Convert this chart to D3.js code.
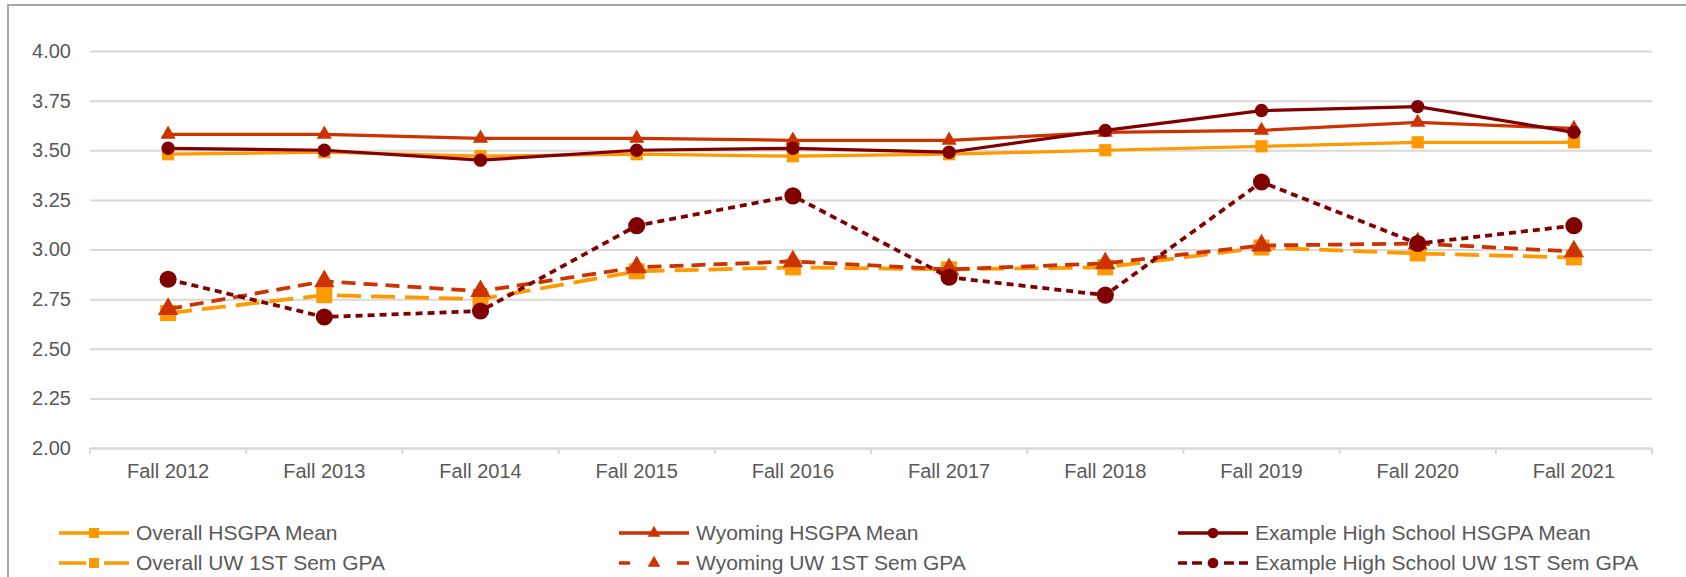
<!DOCTYPE html>
<html>
<head>
<meta charset="utf-8">
<script src="https://cdn.jsdelivr.net/npm/d3@7"></script>
<style>
  body { margin: 0; background: #fff; }
  text { font-family: "Liberation Sans", Arial, sans-serif; fill: #595959; }
</style>
</head>
<body>
<svg id="canvas" width="1686" height="577"></svg>
<script>
// categories and tick labels
let years = ['Fall 2012', 'Fall 2013', 'Fall 2014', 'Fall 2015', 'Fall 2016',
             'Fall 2017', 'Fall 2018', 'Fall 2019', 'Fall 2020', 'Fall 2021']
let yTicks = [2.00, 2.25, 2.50, 2.75, 3.00, 3.25, 3.50, 3.75, 4.00]

// series values
let overallHS    = [3.48, 3.49, 3.47, 3.48, 3.47, 3.48, 3.50, 3.52, 3.54, 3.54]
let wyomingHS    = [3.58, 3.58, 3.56, 3.56, 3.55, 3.55, 3.59, 3.60, 3.64, 3.61]
let exampleHS    = [3.51, 3.50, 3.45, 3.50, 3.51, 3.49, 3.60, 3.70, 3.72, 3.59]
let overallUW    = [2.68, 2.77, 2.75, 2.89, 2.91, 2.90, 2.91, 3.01, 2.98, 2.96]
let wyomingUW    = [2.70, 2.84, 2.79, 2.91, 2.94, 2.90, 2.93, 3.02, 3.03, 2.99]
let exampleUW    = [2.85, 2.66, 2.69, 3.12, 3.27, 2.86, 2.77, 3.34, 3.03, 3.12]

let seriesNames = ['Overall HSGPA Mean', 'Wyoming HSGPA Mean', 'Example High School HSGPA Mean',
                   'Overall UW 1ST Sem GPA', 'Wyoming UW 1ST Sem GPA', 'Example High School UW 1ST Sem GPA']

let orange = '#FF9900'
let rust = '#CC3300'
let maroon = '#800000'

let series = [
  {name: seriesNames[0], values: overallHS, color: orange, shape: 'square', dash: null, big: false},
  {name: seriesNames[1], values: wyomingHS, color: rust, shape: 'triangle', dash: null, big: false},
  {name: seriesNames[2], values: exampleHS, color: maroon, shape: 'circle', dash: null, big: false},
  {name: seriesNames[3], values: overallUW, color: orange, shape: 'square', dash: '24,10', big: true},
  {name: seriesNames[4], values: wyomingUW, color: rust, shape: 'triangle', dash: '14,8', big: true},
  {name: seriesNames[5], values: exampleUW, color: maroon, shape: 'circle', dash: '7,5', big: true}
]

let canvas = d3.select('#canvas')

// chart frame (cut off on the right and bottom)
canvas.append('rect')
  .attr('x', 8).attr('y', 5)
  .attr('width', 1700).attr('height', 600)
  .attr('fill', 'none')
  .attr('stroke', '#a6a6a6')
  .attr('stroke-width', 2)

let xScale = d3.scaleBand().domain(years).range([90, 1652])
let yScale = d3.scaleLinear().domain([2, 4]).range([448, 51])
let xCenter = (d) => xScale(d) + xScale.bandwidth() / 2

// gridlines + y labels
let yAxis = d3.axisLeft(yScale)
  .tickValues(yTicks)
  .tickFormat(d3.format('.2f'))
  .tickSize(-(1652 - 90))
  .tickPadding(19)

let yG = canvas.append('g')
  .attr('transform', 'translate(90,0)')
  .call(yAxis)
yG.select('.domain').remove()
yG.selectAll('.tick line').attr('stroke', '#d9d9d9').attr('stroke-width', 2)
yG.selectAll('.tick text').style('font-size', '20px').attr('fill', '#595959')

// x axis with ticks between categories
let xAxis = d3.axisBottom(xScale).tickSize(0).tickPadding(16)
let xG = canvas.append('g')
  .attr('transform', 'translate(0,448)')
  .call(xAxis)
xG.select('.domain').attr('stroke', '#d9d9d9').attr('stroke-width', 2)
xG.selectAll('.tick text').style('font-size', '20px').attr('fill', '#595959')

let bounds = years.map((y) => xScale(y)).concat([xScale(years[years.length - 1]) + xScale.bandwidth()])
xG.selectAll('.sep')
  .data(bounds)
  .enter()
  .append('line')
  .attr('class', 'sep')
  .attr('x1', (d) => d).attr('x2', (d) => d)
  .attr('y1', 0).attr('y2', 6)
  .attr('stroke', '#d9d9d9')
  .attr('stroke-width', 2)

// marker paths
let markerPath = (shape, big) => {
  if (shape === 'square') {
    return d3.symbol().type(d3.symbolSquare).size(big ? 256 : 150)()
  } else if (shape === 'triangle') {
    return d3.symbol().type(d3.symbolTriangle).size(big ? 180 : 100)()
  } else {
    return d3.symbol().type(d3.symbolCircle).size(big ? 230 : 140)()
  }
}

let line = d3.line()
  .x((d, i) => xCenter(years[i]))
  .y((d) => yScale(d))

series.forEach((s) => {
  canvas.append('path')
    .datum(s.values)
    .attr('d', line)
    .attr('fill', 'none')
    .attr('stroke', s.color)
    .attr('stroke-width', s.dash ? 3.75 : 3.25)
    .attr('stroke-dasharray', s.dash)
    .attr('stroke-linejoin', 'round')

  canvas.selectAll(null)
    .data(s.values)
    .enter()
    .append('path')
    .attr('d', markerPath(s.shape, s.big))
    .attr('transform', (d, i) => 'translate(' + xCenter(years[i]) + ',' + yScale(d) + ')')
    .attr('fill', s.color)
})

// legend
let legendCols = [59, 619, 1178]
let legendRows = [533, 563]

series.forEach((s, i) => {
  let lx = legendCols[i % 3]
  let ly = legendRows[Math.floor(i / 3)]
  let g = canvas.append('g').attr('transform', 'translate(' + lx + ',' + ly + ')')
  if (s.dash) {
    let segs = s.shape === 'square' ? [[0, 27], [45, 70]]
             : s.shape === 'triangle' ? [[0, 11], [58, 70]]
             : [[0, 9], [14, 24], [46, 56], [61, 70]]
    segs.forEach((p) => {
      g.append('line')
        .attr('x1', p[0]).attr('x2', p[1])
        .attr('stroke', s.color).attr('stroke-width', 3.5)
    })
  } else {
    g.append('line')
      .attr('x1', 0).attr('x2', 70)
      .attr('stroke', s.color).attr('stroke-width', 3.5)
  }
  let m = s.shape === 'square' ? d3.symbol().type(d3.symbolSquare).size(100)()
        : s.shape === 'triangle' ? d3.symbol().type(d3.symbolTriangle).size(70)()
        : d3.symbol().type(d3.symbolCircle).size(90)()
  g.append('path').attr('d', m).attr('transform', 'translate(35,0)').attr('fill', s.color)
  g.append('text')
    .attr('x', 77)
    .attr('dy', '0.35em')
    .style('font-size', '21px')
    .text(s.name)
})
</script>
</body>
</html>
